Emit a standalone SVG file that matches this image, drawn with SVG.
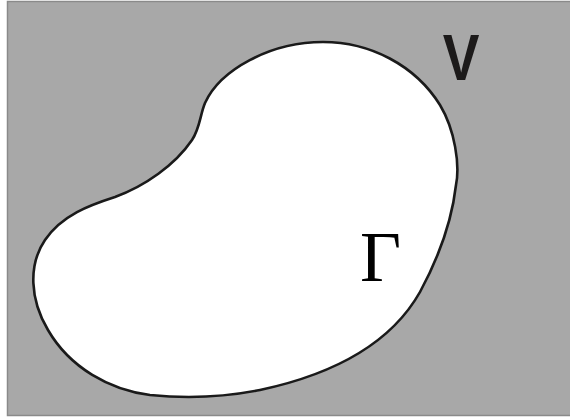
<svg xmlns="http://www.w3.org/2000/svg" width="570" height="418" viewBox="0 0 570 418">
<style>
.bg{fill:#a8a8a8;stroke:#8a8a8a;stroke-width:1.5}
.blob{fill:#ffffff;stroke:#1a1a1a;stroke-width:2.6}
.lv{font-family:"Liberation Sans",Arial,sans-serif;font-weight:bold;font-size:64px;fill:#1c1a1a}
.lg{font-family:"Liberation Serif","Times New Roman",serif;font-size:71px;fill:#000}
</style>
<rect width="570" height="418" fill="#ffffff"/>
<rect class="bg" x="7.5" y="1.5" width="564" height="414"/>
<g id="region">
<path class="blob" d="M 323 42 C 370 42, 415 65, 440 105 C 455 130, 460 165, 456 185 C 452 220, 440 255, 420 292 C 390 345, 330 375, 260 390 C 220 398, 180 398, 150 395 C 110 390, 70 368, 48 330 C 30 300, 28 265, 45 240 C 62 215, 90 205, 115 197 C 145 186, 175 165, 192 140 C 200 128, 200 115, 205 103 C 220 70, 270 42, 323 42 Z"/>
</g>
<g id="label-V"><text class="lv" text-anchor="middle" transform="translate(461,80) scale(0.86,1)">V</text></g>
<g id="label-Gamma"><text class="lg" x="360" y="281">Γ</text></g>
</svg>
